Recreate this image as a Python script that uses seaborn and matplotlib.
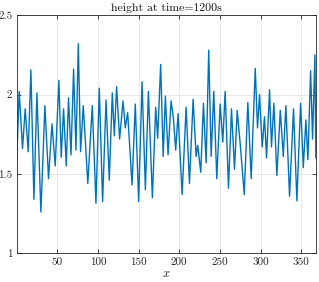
import numpy as np
import pandas as pd
import matplotlib
matplotlib.use("Agg")
import matplotlib.pyplot as plt
import seaborn as sns

# === DATA (peaks / troughs) ===
x_pos = [0, 3.2, 7.3, 10.6, 14.3, 17.6, 21.3, 25.0, 29.9, 34.8, 39.3, 43.5, 47.5,
         52.0, 54.9, 57.8, 61.1, 63.9, 66.9, 70.1, 73.0, 75.9, 78.7, 82.0, 87.6,
         93.1, 97.6, 101.7, 105.8, 110.0, 114.0, 117.7, 120.2, 123.0, 126.7,
         130.9, 133.7, 136.6, 142.0, 146.0, 150.1, 154.3, 158.4, 162.1, 167.0,
         171.1, 173.5, 177.2, 180.3, 183.0, 186.3, 190.0, 192.9, 195.7, 198.6,
         203.6, 208.5, 212.6, 217.1, 220.8, 222.8, 226.5, 229.8, 233.1, 236.3,
         239.3, 242.5, 246.2, 250.4, 253.6, 256.5, 260.6, 264.3, 268.0, 271.3,
         275.0, 280.0, 284.4, 288.5, 293.5, 296.3, 298.8, 302.1, 304.9, 307.4,
         311.1, 313.5, 316.4, 320.1, 324.3, 328.0, 331.2, 335.7, 340.6, 344.7,
         349.3, 352.6, 355.8, 358.3, 361.6, 364.0, 366.9, 368.0]
height = [1.56, 2.02, 1.66, 1.91, 1.64, 2.155, 1.34, 2.01, 1.26, 1.93, 1.47, 1.815, 1.55,
          2.09, 1.605, 1.91, 1.55, 1.98, 1.62, 2.16, 1.65, 2.32, 1.64, 1.93, 1.44,
          1.93, 1.315, 2.04, 1.325, 1.966, 1.46, 2.01, 1.74, 2.05, 1.72,
          1.96, 1.79, 1.886, 1.43, 1.94, 1.325, 2.08, 1.40, 2.02, 1.35,
          1.92, 1.725, 2.19, 1.61, 1.99, 1.62, 1.96, 1.85, 1.65, 1.88,
          1.37, 1.92, 1.44, 1.97, 1.61, 1.68, 1.51, 1.945, 1.57, 2.28,
          1.61, 2.02, 1.47, 1.94, 1.70, 2.02, 1.41, 1.91, 1.53, 1.90,
          1.69, 1.37, 1.95, 1.47, 2.165, 1.79, 2.00, 1.67, 1.86, 1.60,
          2.03, 1.67, 1.945, 1.49, 1.90, 1.61, 1.93, 1.36, 1.91, 1.33,
          1.945, 1.54, 1.84, 1.59, 2.15, 1.72, 2.25, 1.60]
x_ticks = [50, 100, 150, 200, 250, 300, 350]
y_ticks = [1, 1.5, 2, 2.5]
y_tick_labels = ["1", "1.5", "2", "2.5"]

df = pd.DataFrame({"x": x_pos, "height": height})

# === STYLE ===
sns.set_theme(style="ticks")
plt.rcParams["font.family"] = ["cmr10", "DejaVu Serif"]
plt.rcParams["mathtext.fontset"] = "cm"
plt.rcParams["axes.formatter.use_mathtext"] = True

fig = plt.figure(figsize=(3.19, 2.82), dpi=100)
ax = fig.add_axes([0.052, 0.102, 0.938, 0.844])

sns.lineplot(data=df, x="x", y="height", ax=ax, color="#0072BD",
             linewidth=1.0, sort=False, estimator=None)

ax.set_xlim(0, 368)
ax.set_ylim(1, 2.5)
ax.set_xticks(x_ticks)
ax.set_xticklabels([str(t) for t in x_ticks])
ax.set_yticks(y_ticks)
ax.set_yticklabels(y_tick_labels)
ax.grid(True, color="#e6e6e6", linewidth=0.6)
ax.set_axisbelow(True)
ax.tick_params(direction="in", length=3, width=0.6, labelsize=8,
               colors="#262626", pad=3, top=True, right=True)
for sp in ax.spines.values():
    sp.set_visible(True)
    sp.set_linewidth(0.6)
    sp.set_color("#262626")

ax.set_title("height at time=1200s", fontsize=8.5, pad=3, color="#111111")
ax.set_xlabel("$x$", fontsize=9, labelpad=1)
ax.set_ylabel("")

plt.savefig("out.png", dpi=100)
